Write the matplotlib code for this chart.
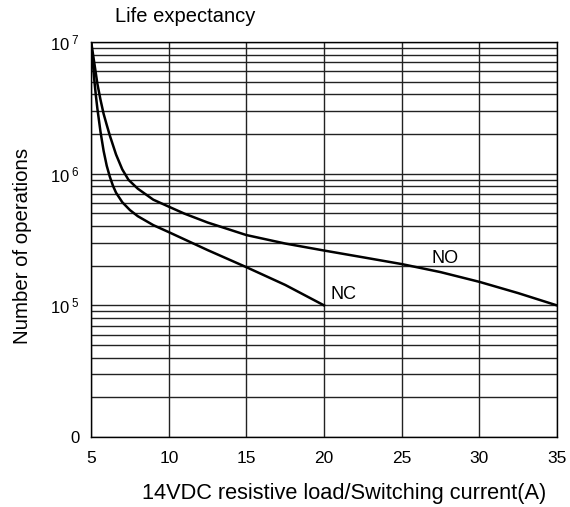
import matplotlib
matplotlib.use("Agg")
import matplotlib.pyplot as plt
from matplotlib.ticker import NullFormatter, LogLocator

plt.rcParams['font.family'] = ['Liberation Sans', 'DejaVu Sans']
plt.rcParams['mathtext.fontset'] = 'custom'
plt.rcParams['mathtext.rm'] = 'Liberation Sans'
plt.rcParams['mathtext.it'] = 'Liberation Sans'

# Data (switching current in A, number of operations)
no_x = [5.0, 5.2, 5.4, 5.6, 5.8, 6.0, 6.2, 6.6, 7.0, 7.4, 8.0, 9.0, 10.0,
        11.0, 12.5, 15.0, 17.5, 20.0, 22.5, 25.0, 27.5, 30.0, 32.5, 35.0]
no_y = [1e7, 6.93e6, 4.81e6, 3.64e6, 2.85e6, 2.35e6, 1.95e6, 1.40e6, 1.08e6,
        9.0e5, 7.7e5, 6.35e5, 5.62e5, 4.98e5, 4.26e5, 3.42e5, 2.95e5, 2.61e5,
        2.32e5, 2.06e5, 1.79e5, 1.51e5, 1.24e5, 1e5]
nc_x = [5.0, 5.1, 5.2, 5.3, 5.4, 5.6, 5.8, 6.0, 6.2, 6.4, 6.6, 7.0, 7.5, 8.0,
        9.0, 10.0, 12.5, 15.0, 17.5, 20.0]
nc_y = [1e7, 7.05e6, 5.15e6, 3.93e6, 3.11e6, 2.08e6, 1.49e6, 1.15e6, 9.49e5,
        8.11e5, 7.18e5, 6.08e5, 5.29e5, 4.76e5, 4.07e5, 3.60e5, 2.63e5, 1.95e5,
        1.43e5, 1e5]

x_ticks = [5, 10, 15, 20, 25, 30, 35]
y_ticks = [1e4, 1e5, 1e6, 1e7]
y_tick_labels = ['0', '10$^{\\ 5}$', '10$^{\\ 6}$', '10$^{\\ 7}$']

fig = plt.figure(figsize=(5.7, 5.07), dpi=100)
ax = fig.add_axes([0.16, 0.138, 0.817, 0.779])

ax.set_yscale('log')
ax.set_xlim(5, 35)
ax.set_ylim(1e4, 1e7)

ax.plot(no_x, no_y, color='black', lw=1.8, zorder=3, solid_joinstyle='round')
ax.plot(nc_x, nc_y, color='black', lw=1.8, zorder=3, solid_joinstyle='round')

ax.set_xticks(x_ticks)
ax.set_xticklabels([str(v) for v in x_ticks])
ax.set_yticks(y_ticks)
ax.set_yticklabels(y_tick_labels)
ax.yaxis.set_minor_locator(LogLocator(base=10, subs=range(2, 10), numticks=20))
ax.yaxis.set_minor_formatter(NullFormatter())

ax.grid(True, which='major', axis='both', color='#222222', lw=1.0)
ax.grid(True, which='minor', axis='y', color='#222222', lw=1.0)
ax.tick_params(which='both', length=0, colors='black')
ax.tick_params(axis='x', pad=10, labelsize=12.5)
ax.tick_params(axis='y', pad=8, labelsize=12)
for s in ax.spines.values():
    s.set_color('black')
    s.set_linewidth(1.0)

ax.text(20.4, 1.21e5, 'NC', fontsize=13, va='center', ha='left')
ax.text(26.9, 2.27e5, 'NO', fontsize=13, va='center', ha='left')

fig.text(115 / 570, 1 - 17 / 507, 'Life expectancy', fontsize=14.5, ha='left', va='center')
fig.text(344 / 570, 1 - 493 / 507, '14VDC resistive load/Switching current(A)', fontsize=15.7,
         ha='center', va='center')
fig.text(23 / 570, 1 - 246 / 507, 'Number of operations', fontsize=14.7, rotation=90,
         ha='center', va='center')

fig.savefig('out.png', dpi=100)
